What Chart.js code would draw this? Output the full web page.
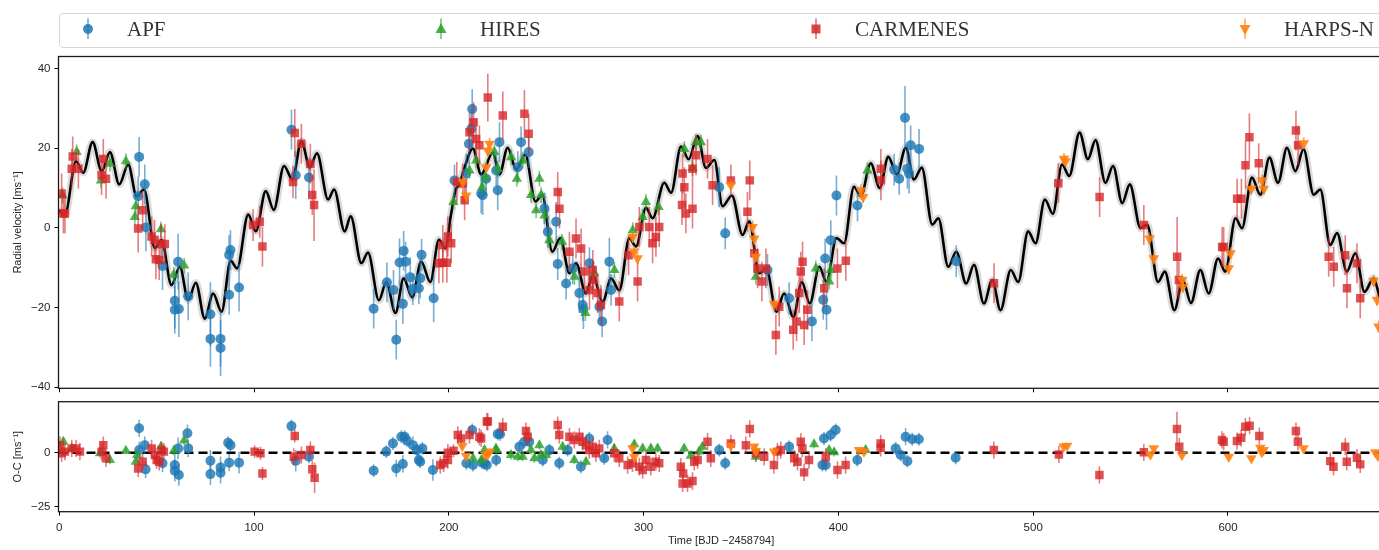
<!DOCTYPE html>
<html>
<head>
<meta charset="utf-8">
<script src="https://cdn.jsdelivr.net/npm/chart.js@4.4.1/dist/chart.umd.min.js"></script>
<style>
html,body{margin:0;padding:0;background:#fff;overflow:hidden;width:1379px;height:550px;}
#wrap{position:relative;width:1379px;height:550px;overflow:hidden;}
#c1{position:absolute;left:0;top:0;}
#c2{position:absolute;left:0;top:395px;}
#legend{position:absolute;left:59px;top:13px;width:1400px;height:35px;border:1px solid #d6d6d6;border-radius:4px;box-sizing:border-box;}
.lt{position:absolute;top:18.5px;line-height:21px;font-family:"Liberation Serif","Times New Roman",serif;font-size:21px;color:#333;white-space:nowrap;}
.lm{position:absolute;top:16px;}
</style>
</head>
<body>
<div id="wrap">
  <canvas id="c1" width="1390" height="395"></canvas>
  <canvas id="c2" width="1390" height="155"></canvas>
  <div id="legend"></div>
  <svg class="lm" style="left:78px" width="20" height="26"><line x1="10" y1="2.5" x2="10" y2="23" stroke="rgba(31,119,180,0.7)" stroke-width="1.5"/><circle cx="10" cy="13" r="5" fill="rgba(31,119,180,0.85)"/></svg>
  <span class="lt" style="left:127px">APF</span>
  <svg class="lm" style="left:431px" width="20" height="26"><line x1="10" y1="2.5" x2="10" y2="23" stroke="rgba(44,160,44,0.7)" stroke-width="1.5"/><polygon points="10,7 15.5,17 4.5,17" fill="rgba(44,160,44,0.85)"/></svg>
  <span class="lt" style="left:480px">HIRES</span>
  <svg class="lm" style="left:806px" width="20" height="26"><line x1="10" y1="2.5" x2="10" y2="23" stroke="rgba(214,39,40,0.7)" stroke-width="1.5"/><rect x="5.5" y="8.5" width="9" height="9" fill="rgba(214,39,40,0.85)"/></svg>
  <span class="lt" style="left:855px">CARMENES</span>
  <svg class="lm" style="left:1235px" width="20" height="26"><line x1="10" y1="2.5" x2="10" y2="23" stroke="rgba(255,127,14,0.7)" stroke-width="1.5"/><polygon points="4.5,9 15.5,9 10,19" fill="rgba(255,127,14,0.9)"/></svg>
  <span class="lt" style="left:1284px">HARPS-N</span>
</div>
<script>
// ---------------- DATA ----------------
const xTicks = [0, 100, 200, 300, 400, 500, 600];
const rvTicks = [-40, -20, 0, 20, 40];
const ocTicks = [-25, 0];

// model curve (local extrema of the black curve)
const modelT = [-0.4, 2.9, 8.6, 12.3, 17.1, 21.8, 26.0, 30.8, 35.4, 39.7,
 43.5, 49.1, 52.5, 57.6, 61.9, 66.2, 70.1, 74.7, 79.0, 83.3,
 88.0, 91.3, 97.0, 100.9, 106.0, 110.1, 115.4, 119.7, 124.3, 128.6,
 132.3, 138.0, 141.1, 146.5, 149.6, 155.1, 158.5, 164.1, 167.9, 172.6,
 176.8, 181.2, 185.8, 190.5, 194.9, 198.2, 201.0, 203.5, 205.5, 208.0,
 212.3, 216.6, 222.6, 226.0, 230.2, 234.6, 239.2, 244.5, 247.9, 253.1,
 257.2, 261.9, 265.3, 270.4, 273.9, 279.0, 283.3, 287.5, 292.7, 296.1,
 301.2, 304.6, 310.6, 314.1, 319.2, 323.1, 327.7, 332.0, 336.3, 340.5,
 345.3, 350.8, 354.2, 359.3, 363.0, 368.2, 372.1, 376.9, 381.2, 385.3,
 390.2, 393.9, 399.0, 402.9, 408.0, 411.5, 416.6, 421.2, 425.6, 430.0,
 434.6, 438.8, 442.8, 448.2, 451.3, 456.4, 460.5, 465.6, 469.6, 474.7,
 479.0, 483.2, 488.5, 492.3, 497.4, 501.2, 506.0, 510.1, 514.8, 518.5,
 523.8, 528.1, 532.0, 537.1, 541.0, 545.7, 549.6, 555.1, 558.5, 564.1,
 567.6, 572.5, 576.8, 581.0, 585.8, 590.1, 594.9, 598.6, 603.9, 607.2,
 612.3, 616.6, 621.3, 625.7, 630.3, 634.6, 638.8, 644.0, 647.4, 652.5,
 656.0, 661.0, 665.4, 670.1, 674.7, 679.3, 680.5];
const modelV = [4.4, 3.3, 16.7, 13.8, 21.5, 14.2, 19.0, 10.9, 15.9, 7.9,
 9.6, -5.1, -3.0, -14.4, -9.8, -18.2, -13.8, -22.8, -16.5, -21.1,
 -8.3, -10.2, 3.3, -0.9, 9.2, 4.5, 15.5, 12.1, 21.8, 15.1,
 18.7, 7.1, 9.6, -0.9, 2.9, -8.9, -6.2, -18.2, -13.6, -21.4,
 -12.7, -17.5, -8.5, -13.6, -3.0, -5.2, 3.0, 9.5, 11.0, 15.0,
 19.9, 13.4, 18.9, 13.4, 20.1, 14.6, 18.4, 6.6, 8.3, -6.0,
 -2.6, -11.4, -8.9, -16.5, -11.9, -18.6, -12.7, -15.7, -2.6, -4.7,
 5.0, 2.4, 11.3, 8.8, 20.4, 17.2, 23.0, 15.0, 17.0, 5.4,
 8.1, -1.8, 1.6, -11.4, -10.3, -21.1, -16.5, -22.4, -13.6, -19.0,
 -9.8, -13.6, -2.6, -3.9, 10.3, 7.9, 16.2, 10.0, 17.8, 13.4,
 20.1, 12.1, 15.1, 0.8, 2.4, -9.8, -6.0, -14.0, -9.3, -19.0,
 -13.1, -20.7, -10.6, -13.6, -0.9, -3.9, 7.1, 3.5, 15.9, 13.0,
 23.9, 17.2, 22.0, 11.3, 15.5, 6.2, 10.9, -0.1, 0.8, -13.6,
 -11.0, -20.7, -13.1, -18.9, -10.6, -16.5, -7.7, -11.0, 2.4, -0.1,
 12.6, 8.3, 17.6, 11.3, 20.1, 14.2, 19.7, 8.3, 9.6, -4.3,
 -1.3, -11.0, -6.4, -16.1, -12.7, -19.0, -18.5];

// radial velocities [time, rv, error]
const apfRV = [[41.0,17.8,5],[40.5,7.9,5],[43.9,10.9,5],[44.5,0.1,6],[53.0,-9.6,6],[61.0,-8.5,7],[59.3,-18.3,7],[59.3,-20.6,6],[61.4,-20.4,7],[66.2,-17.2,6],
 [77.6,-21.7,8],[77.6,-27.9,7],[82.8,-27.9,7],[82.8,-30.2,7],[87.2,-16.8,5],[87.2,-6.8,5],[87.9,-5.6,5],[92.3,-15.0,6],[119.2,24.6,5],[121.4,13.2,6],
 [128.2,12.6,5],[161.4,-20.3,5],[168.2,-13.7,5],[171.6,-15.6,5],[173.0,-28.1,5],[174.7,-8.7,6],[176.8,-5.8,5],[176.4,-19.1,5],[177.8,-8.5,5],[180.2,-12.4,5],
 [181.5,-15.4,4],[184.6,-15.2,4],[185.3,-12.7,5],[186.0,-6.8,4],[192.2,-17.7,6],[202.9,11.9,4],[212.0,29.8,5],[211.5,24.8,5],[210.3,21.1,5],[208.9,13.6,5],
 [216.6,8.6,5],[217.4,8.2,5],[219.2,12.3,4],[224.3,14.4,4],[225.1,9.4,5],[226.0,21.5,5],[235.4,15.2,4],[237.1,21.5,4],[241.0,19.0,4],[249.1,4.8,4],
 [250.8,-1.0,4],[255.1,1.5,5],[255.9,-9.1,4],[260.2,-14.0,4],[263.6,-10.2,4],[267.0,-16.4,5],[268.7,-19.4,4],[272.2,-8.9,4],[269.1,-20.4,5],[277.3,-19.8,4],
 [278.7,-23.5,4],[282.4,-8.5,6],[283.3,-15.6,4],[341.9,-1.4,4],[338.8,10.2,5],[363.6,-10.6,4],[374.7,-17.7,4],[386.4,-23.5,5],[392.2,-18.1,5],[393.9,-20.6,5],
 [393.2,-7.7,5],[396.1,-3.1,5],[399.0,8.1,5],[409.8,5.6,4],[428.6,14.6,4],[431.2,12.3,4],[434.2,27.6,8],[435.4,14.8,5],[436.3,13.6,5],[437.1,20.7,5],
 [441.4,19.8,5],[460.5,-8.4,4]];
const hiresRV = [[1.7,8.1,2],[8.9,19.0,2],[21.4,11.9,2],[26.0,16.1,2],[34.2,16.7,2],[39.3,5.4,2],[38.8,2.7,2],[52.2,-0.4,2],[58.8,-11.8,2],[64.1,-9.5,2],
 [202.4,6.5,2],[210.6,14.4,2],[214.0,16.9,2],[217.1,10.2,2],[218.8,12.7,2],[223.4,19.0,2],[225.1,14.8,2],[232.0,17.7,2],[234.9,12.3,2],[238.0,16.9,2],
 [242.2,8.2,2],[244.8,4.4,2],[246.5,12.3,2],[247.4,8.2,2],[249.1,3.1,2],[251.6,-3.1,2],[258.1,-3.5,2],[264.5,-12.3,2],[270.1,-21.4,2],[274.7,-11.4,2],
 [285.0,-10.6,2],[294.4,-0.6,2],[299.5,2.7,2],[301.2,6.5,2],[307.7,5.2,2],[320.9,19.8,2],[326.9,21.5,2],[329.4,21.5,2],[325.1,15.0,2],[357.6,-12.3,2],
 [388.4,-10.2,2],[395.3,-13.5,2],[396.1,-10.6,2],[414.9,14.4,2]];
const carmenesRV = [[1.2,8.6,5],[2.1,3.6,5],[2.9,3.6,5],[6.9,17.9,5],[6.4,14.8,5],[9.8,14.8,5],[21.7,13.2,5],[24.0,12.3,5],[22.6,17.3,5],[40.5,-0.2,6],
 [42.8,4.4,5],[47.4,-2.2,5],[48.9,-3.0,5],[49.6,-7.9,5],[51.3,-8.1,5],[52.2,-4.1,5],[54.2,-4.1,5],[99.5,0.7,4],[102.9,1.5,4],[104.3,-4.7,5],
 [120.9,23.8,6],[120.0,11.5,4],[124.3,21.1,5],[128.9,16.1,5],[129.9,8.2,5],[130.8,5.7,9],[194.9,-8.9,5],[196.9,-8.8,5],[199.0,-8.8,5],[196.9,-4.3,5],
 [199.5,-2.2,5],[201.2,-3.9,5],[204.1,11.5,5],[207.2,11.1,5],[208.1,6.9,5],[210.6,24.0,5],[212.7,26.5,5],[214.0,22.3,5],[215.7,20.7,5],[220.0,32.7,6],
 [227.7,28.2,6],[238.8,28.6,6],[241.0,23.6,5],[255.9,9.0,5],[256.8,4.8,5],[261.9,-6.0,5],[265.3,-2.7,5],[267.9,-5.2,5],[269.6,-11.0,5],[273.9,-10.6,5],
 [273.9,-13.1,5],[276.4,-16.4,5],[272.2,-15.6,5],[278.1,-19.4,5],[287.5,-18.5,5],[292.3,-6.9,5],[296.9,-13.5,5],[297.8,0.2,5],[302.9,0.2,5],[304.6,-3.9,5],
 [306.3,-2.3,5],[308.0,0.2,5],[320.0,13.6,5],[320.9,10.2,5],[319.7,5.7,5],[321.7,3.6,5],[325.1,4.8,5],[326.9,18.2,5],[325.1,14.8,5],[332.8,17.3,5],
 [335.4,10.7,5],[344.8,11.9,4],[354.5,11.9,5],[353.3,4.0,5],[356.8,-6.4,5],[358.5,-10.2,5],[360.7,-13.5,5],[362.8,-10.2,5],[367.9,-26.9,5],[369.6,-19.8,5],
 [376.8,-25.6,5],[378.5,-23.5,5],[379.9,-16.4,5],[380.7,-11.0,5],[381.6,-8.5,5],[382.4,-24.4,5],[384.1,-20.6,5],[392.7,-15.2,5],[399.5,-10.2,5],[403.8,-8.3,5],
 [421.8,14.8,5],[421.8,11.9,5],[479.9,-13.9,5],[512.9,11.2,5],[534.1,7.7,5],[556.8,0.7,5],[573.9,-7.3,10],[574.8,-13.1,5],[597.0,-4.8,5],[597.8,-4.8,5],
 [604.7,7.3,5],[606.9,7.3,5],[609.0,15.7,6],[611.0,22.7,6],[615.8,16.2,5],[634.9,24.4,5],[636.0,20.7,5],[651.7,-7.3,5],[654.3,-9.8,5],[660.2,-6.9,5],
 [661.1,-15.2,5],[666.2,-8.9,5],[667.9,-17.7,5]];
const harpsRV = [[207.2,11.5,1.5],[208.9,8.1,1.5],[220.0,19.4,1.5],[220.9,21.1,1.5],[219.2,15.2,1.5],[294.4,-2.3,1.5],[295.2,-6.0,1.5],[296.9,-7.7,1.5],[344.8,10.7,1.5],[355.9,0.2,1.5],
 [356.8,-2.7,1.5],[357.6,-7.3,1.5],[367.0,-19.1,1.5],[411.5,9.4,1.5],[412.7,7.7,1.5],[515.8,17.3,1.5],[516.6,16.7,1.5],[559.7,-2.7,1.5],[561.9,-7.7,1.5],[576.5,-13.1,1.5],
 [576.8,-14.8,1.5],[600.4,-10.2,1.5],[601.3,-6.4,1.5],[612.0,9.8,1.5],[617.5,11.9,1.5],[618.4,9.8,1.5],[638.9,21.2,1.5],[674.8,-13.3,1.5],[676.5,-18.1,1.5],[677.3,-24.8,1.5]];

// residuals O-C [time, residual, error]
const apfOC = [[41,11.3,4],[41,1.2,4],[43.9,3.5,4],[44.3,-7.7,4],[53,-4.9,4],[59.3,-5.7,5],[59.3,-8.3,5],[61.4,-10.3,5],[61,2,5],[65.8,9,4],
 [66.2,2,4],[77.6,-3.7,5],[77.6,-9.9,5],[82.8,-6.8,5],[82.8,-9.3,5],[87.2,-4.6,4],[86.7,4.6,3],[87.9,3.5,3],[92.3,-4.6,5],[119.2,12.3,3],
 [121.4,-3.7,5],[128.2,-1.9,3],[161.4,-8.3,3],[167.9,0.5,3],[171.3,4.3,3],[173,-7.3,4],[175.6,7.4,3],[177.3,7.4,3],[176.4,-5.2,4],[178.5,5.6,3],
 [181.5,3.5,4],[183.6,1.2,3],[184.6,-3.4,3],[185.3,-4.2,3],[186.4,2,3],[191.8,-8,5],[212,10.5,3],[209,-4.9,3],[212.4,-5.7,3],[217.1,-4.6,3],
 [219.5,-5.7,3],[224.3,-3.4,3],[225.1,8.6,3],[218.3,-4.9,3],[226.3,8.5,3],[236.2,2.8,3],[238.8,5.1,3],[241.3,5.1,3],[248.2,-3.4,3],[251.6,1.2,3],
 [256.7,-4.9,3],[261,1.2,3],[267.8,-6.5,3],[272.1,6.6,3],[279.8,-2.6,3],[281.5,5.9,4],[338.8,1.2,3],[341.9,-4.9,3],[374.7,2.8,3],[391.8,-5.7,3],
 [393.5,-5.7,3],[392.6,6.6,3],[396,8.2,3],[398.6,10.5,3],[409.7,-3.4,3],[429.4,2,3],[434.5,7.4,4],[437.9,6.2,3],[441.3,6.2,3],[435.4,-3.9,3],
 [432,-1.1,3],[460.2,-2.3,3]];
const hiresOC = [[2.1,5.1,2],[6.4,2,2],[26,-3.4,2],[20.9,-0.3,2],[34.2,0.9,1.5],[39.3,-4.2,2],[40,-1.1,2],[52.2,2.8,2],[58.8,0.9,2],[64.1,5.6,2],
 [212.4,-2.6,2],[216.7,-3.4,2],[224.3,1.2,2],[218.3,1.2,2],[224.2,2,2],[231.9,-1.1,2],[235.4,-1.9,2],[237.9,-1.9,2],[242.2,1.2,2],[243.9,-2.6,2],
 [246.5,3.5,2],[247.3,-1.1,2],[249.9,-1.1,2],[258.4,2.8,2],[264.4,-3.4,2],[270.4,-4.2,2],[284.9,2,2],[295.2,3.9,2],[299.5,2,2],[303.7,2,2],
 [307.2,2,2],[320.8,2,2],[324.2,-1.4,2],[328.5,0.5,2],[330.2,2.8,2],[357.6,-1.9,2],[387.5,3.9,2],[395.2,1.2,2],[397.8,0.2,2],[414,1.2,2]];
const carmenesOC = [[0.4,3.5,4],[1.2,-0.3,4],[2.9,0.5,4],[6.4,2,4],[8.6,2,4],[10.6,0.5,4],[21.7,0.5,4],[22.6,3.5,4],[24,-2.6,4],[40.5,-7.3,4],
 [42.8,-4.2,4],[47.4,2,4],[49.1,-1.1,4],[50,-3.4,4],[51.3,-4.2,4],[52.5,1.2,4],[53.7,0.5,4],[100.3,0.5,3],[103.3,-0.3,3],[104.3,-9.6,3],
 [120.4,-1.9,4],[120.9,7.7,3],[124.3,-1.1,4],[128.9,1.2,4],[129.9,-7.7,4],[131.1,-11.6,7],[195.6,-5.7,4],[197.3,-4.9,4],[199.5,-3.4,4],[199.5,0,4],
 [202.4,0.9,3],[204.6,8.2,4],[206.3,6.6,4],[210.6,8.2,4],[215.7,7.4,4],[219.5,14.4,4],[216.6,6.6,4],[220,14.4,4],[227.7,12,4],[239.6,10,4],
 [240.5,7.4,4],[255.9,12.8,4],[256.7,8.2,4],[261.9,7.4,4],[264.4,5.9,4],[267,7.4,4],[268.7,5.1,4],[270.4,3.5,4],[272.1,1.2,4],[273.8,2.8,4],
 [275.5,-0.3,4],[277.2,2,4],[284.9,-0.3,4],[287.5,-2.6,4],[291.8,-5.7,4],[294.3,-4.9,4],[297.8,-6.5,4],[299.5,-8,4],[301.2,-3.4,4],[303.7,-6.5,4],
 [306.3,-4.2,4],[308,-4.9,4],[319.1,-6.5,4],[320.3,-9.6,4],[320,-14.2,4],[322.5,-14.2,4],[325.1,-13.1,4],[326,-4.2,4],[327.7,-3.4,4],[332.8,5.1,4],
 [334.5,-2.6,4],[344.8,4.3,4],[352.5,3.5,4],[354.5,11,4],[357.6,-0.3,4],[361.9,-1.9,4],[366.9,-5.7,4],[368.7,0.5,4],[370.4,1.2,4],[377.3,-2.6,4],
 [379,-4.2,4],[380.7,5.1,4],[381.5,2,4],[382.4,-9.1,4],[384.9,-3.4,4],[393.5,-1.9,4],[399.5,-8,4],[403.7,-5.7,4],[421.7,4.3,4],[421.7,2.3,4],
 [479.8,1.2,4],[513.2,-0.8,4],[534,-10.3,4],[556.8,0.2,4],[573.8,11,8],[575,2.8,4],[596.9,5.9,4],[597.8,5.1,4],[604.6,5.4,4],[606.8,6.9,4],
 [608.9,12,4],[611.1,12.5,4],[616.1,7.7,4],[634.9,10,4],[635.9,5.1,4],[652.5,-3.9,4],[654.2,-6.5,4],[660.2,2.8,4],[661,-4.2,4],[666.2,-2.3,4],
 [667.9,-5.4,4]];
const harpsOC = [[206.9,3.1,1],[208.9,-1.5,1],[218.8,-1.1,1],[220.9,0.5,1],[220,-0.8,1],[294.3,2,1],[295.2,-1.9,1],[344.8,3.2,1],[356.7,2.8,1],[357.6,0.8,1],
 [367,0.5,1],[410.6,1.2,1],[413.1,0.5,1],[515.7,2.8,1],[517.4,3.2,1],[560.2,-0.8,1],[561.9,2,1],[576.4,-1.1,1],[600.4,-1.9,1],[612,-2.6,1],
 [616.6,2.3,1],[617.4,0.2,1],[618.3,1.2,1],[638.8,2,1],[675.6,0.2,1],[677,-1.5,1]];

// ---------------- STYLE / SETUP ----------------
const X_MIN = -0.4, X_MAX = 680;
const TXT = '#262626';
const SANS = '"Liberation Sans", Arial, Helvetica, sans-serif';

const toPts = arr => arr.map(a => ({x: a[0], y: a[1], e: a[2]}));
const modelPts = modelT.map((t, i) => ({x: t, y: modelV[i]}));
const fmt = v => String(v).replace('-', '\u2212');

const inst = [
  {label: 'APF', style: 'circle', r: 5, rot: 0, fill: 'rgba(31,119,180,0.82)', err: 'rgba(31,119,180,0.6)', order: 4},
  {label: 'HIRES', style: 'triangle', r: 6, rot: 0, fill: 'rgba(44,160,44,0.82)', err: 'rgba(44,160,44,0.6)', order: 3},
  {label: 'CARMENES', style: 'rect', r: 6, rot: 0, fill: 'rgba(214,39,40,0.8)', err: 'rgba(214,39,40,0.6)', order: 2},
  {label: 'HARPS-N', style: 'triangle', r: 6.2, rot: 180, fill: 'rgba(255,127,14,0.88)', err: 'rgba(255,127,14,0.7)', order: 1}
];

function scatterSet(i, arr) {
  const s = inst[i];
  return {
    type: 'scatter', label: s.label, data: toPts(arr), order: s.order,
    pointStyle: s.style, pointRadius: s.r, pointRotation: s.rot,
    backgroundColor: s.fill, borderColor: s.fill, borderWidth: 0,
    errColor: s.err
  };
}

const errorBars = {
  id: 'errorBars',
  beforeDatasetDraw(chart, args) {
    const ds = chart.data.datasets[args.index];
    if (!ds.errColor) return;
    const xs = chart.scales.x, ys = chart.scales.y, ctx = chart.ctx, a = chart.chartArea;
    ctx.save();
    ctx.beginPath(); ctx.rect(a.left, a.top, a.right - a.left, a.bottom - a.top); ctx.clip();
    ctx.strokeStyle = ds.errColor; ctx.lineWidth = 1.6;
    ds.data.forEach(p => {
      const px = xs.getPixelForValue(p.x);
      ctx.beginPath();
      ctx.moveTo(px, ys.getPixelForValue(p.y - p.e));
      ctx.lineTo(px, ys.getPixelForValue(p.y + p.e));
      ctx.stroke();
    });
    ctx.restore();
  }
};

const frame = {
  id: 'frame',
  afterDraw(chart) {
    const a = chart.chartArea, ctx = chart.ctx;
    ctx.save();
    ctx.strokeStyle = '#1a1a1a'; ctx.lineWidth = 1.3;
    ctx.strokeRect(a.left, a.top, a.right - a.left, a.bottom - a.top);
    ctx.restore();
  }
};

function noPad(s) { s.paddingTop = 0; s.paddingBottom = 0; s.paddingLeft = 0; s.paddingRight = 0; }

function xScale(showLabels, height) {
  return {
    type: 'linear', min: X_MIN, max: X_MAX,
    afterBuildTicks: s => { s.ticks = xTicks.map(v => ({value: v})); },
    afterFit: s => { s.height = height; noPad(s); },
    border: {display: false},
    grid: {drawOnChartArea: false, drawTicks: true, tickLength: 4, tickColor: '#000', tickWidth: 1},
    ticks: {display: showLabels, padding: 5, color: TXT, font: {family: SANS, size: 11.5}, maxRotation: 0,
            callback: v => fmt(v)},
    title: showLabels ? {display: true, text: 'Time [BJD \u22122458794]', color: TXT,
            font: {family: SANS, size: 11}, padding: {top: 0, bottom: 2.4}} : {display: false}
  };
}
function yScale(min, max, ticks, title) {
  return {
    type: 'linear', min: min, max: max,
    afterBuildTicks: s => { s.ticks = ticks.map(v => ({value: v})); },
    afterFit: s => { s.width = 58.5; noPad(s); },
    border: {display: false},
    grid: {drawOnChartArea: false, drawTicks: true, tickLength: 4, tickColor: '#000', tickWidth: 1},
    ticks: {padding: 4, color: TXT, font: {family: SANS, size: 11.5}, callback: v => fmt(v)},
    title: {display: true, text: title, color: TXT, font: {family: SANS, size: 11}, padding: {top: 11.4, bottom: 0}}
  };
}

const common = {
  responsive: false, animation: false, events: [],
  plugins: {legend: {display: false}, tooltip: {enabled: false}}
};

new Chart(document.getElementById('c1'), {
  type: 'scatter',
  data: {datasets: [
    {type: 'line', data: modelPts, order: 11, borderColor: 'rgba(0,0,0,0.14)', borderWidth: 7.5,
     pointRadius: 0, cubicInterpolationMode: 'monotone', fill: false},
    {type: 'line', data: modelPts, order: 10, borderColor: '#000', borderWidth: 2.6,
     pointRadius: 0, cubicInterpolationMode: 'monotone', fill: false},
    scatterSet(0, apfRV), scatterSet(1, hiresRV), scatterSet(2, carmenesRV), scatterSet(3, harpsRV)
  ]},
  options: Object.assign({}, common, {
    layout: {padding: {top: 56.5, left: 0, right: 4.7, bottom: 0}},
    scales: {x: xScale(false, 6.7), y: yScale(-40.3, 43, rvTicks, 'Radial velocity [ms\u207B\u00B9]')}
  }),
  plugins: [errorBars, frame]
});

new Chart(document.getElementById('c2'), {
  type: 'scatter',
  data: {datasets: [
    {type: 'line', data: [{x: X_MIN, y: 0}, {x: X_MAX, y: 0}], order: 10, borderColor: '#000',
     borderWidth: 2.6, borderDash: [9, 5], pointRadius: 0, fill: false},
    scatterSet(0, apfOC), scatterSet(1, hiresOC), scatterSet(2, carmenesOC), scatterSet(3, harpsOC)
  ]},
  options: Object.assign({}, common, {
    layout: {padding: {top: 6.7, left: 0, right: 4.7, bottom: 0}},
    scales: {x: xScale(true, 38.3), y: yScale(-27.3, 23.6, ocTicks, 'O-C [ms\u207B\u00B9]')}
  }),
  plugins: [errorBars, frame]
});
</script>
</body>
</html>
